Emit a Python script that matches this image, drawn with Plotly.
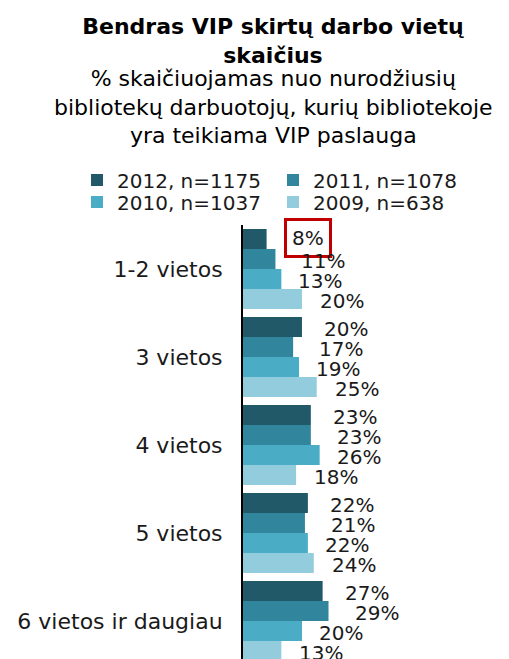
import plotly.graph_objects as go

categories = ["1-2 vietos", "3 vietos", "4 vietos", "5 vietos", "6 vietos ir daugiau"]
series_names = ["2012, n=1175", "2011, n=1078", "2010, n=1037", "2009, n=638"]
values_2012 = [8, 20, 23, 22, 27]
values_2011 = [11, 17, 23, 21, 29]
values_2010 = [13, 19, 26, 22, 20]
values_2009 = [20, 25, 18, 24, 13]
series_values = [values_2012, values_2011, values_2010, values_2009]
colors = ["#215968", "#31859C", "#4BACC6", "#93CDDD"]
legend_rows = ["legend", "legend", "legend2", "legend2"]
label_xshift = [20, 24, 15, 16]
highlight = (0, 0)  # (series index, category index) boxed in red

FONT = "DejaVu Sans"
TXT = "#1A1A1A"
BARGAP = 8 / 88

# the page body has an 8px margin: figure pixel = screen pixel - 8
OFF = 8
W, H = 509 - OFF, 659 - OFF
ML, MT = 243 - OFF, 225 - OFF
PW, PH = W - ML, H - MT


def px_x(p):  # screen pixel -> paper x
    return (p - OFF - ML) / PW


def px_y(p):  # screen pixel -> paper y
    return (H - (p - OFF)) / PH


fig = go.Figure()
for name, vals, col, lg in zip(series_names, series_values, colors, legend_rows):
    fig.add_trace(go.Bar(
        y=categories, x=vals, name=name, orientation="h",
        marker=dict(color=col, line=dict(width=0)),
        legend=lg, hoverinfo="x+y",
    ))

n = len(series_values)
bw = (1 - BARGAP) / n
annotations = []
for k, vals in enumerate(series_values):
    off = -(1 - BARGAP) / 2 + bw * (k + 0.5)
    for i, v in enumerate(vals):
        a = dict(x=v, y=i + off, xref="x", yref="y", text=f"{v}%",
                 showarrow=False, xanchor="left", yanchor="middle",
                 xshift=label_xshift[k], yshift=-2,
                 font=dict(family=FONT, size=20, color=TXT))
        if (k, i) == highlight:
            a.update(bordercolor="#C00000", borderwidth=3, borderpad=5,
                     xshift=label_xshift[k] - 3, yshift=1)
        annotations.append(a)

# subtitle
annotations.append(dict(
    xref="paper", yref="paper", x=px_x(273), y=px_y(107),
    xanchor="center", yanchor="middle", showarrow=False,
    text="% skaičiuojamas nuo nurodžiusių<br>bibliotekų darbuotojų, kurių bibliotekoje<br>yra teikiama VIP paslauga",
    font=dict(family=FONT, size=22, color="#000000"),
))

legend_common = dict(
    orientation="h", xref="paper", yref="paper", xanchor="left",
    yanchor="middle", entrywidth=151, traceorder="normal",
    font=dict(family=FONT, size=20, color=TXT), bgcolor="rgba(0,0,0,0)",
)

fig.update_layout(
    width=W, height=H,
    margin=dict(l=ML, r=0, t=MT, b=0, autoexpand=False),
    paper_bgcolor="white", plot_bgcolor="white",
    barmode="group", bargap=BARGAP, bargroupgap=0,
    title=dict(
        text="<b>Bendras VIP skirtų darbo vietų<br>skaičius</b>",
        font=dict(family=FONT, size=22, color="#000000"),
        xref="container", x=(273 - OFF) / W, xanchor="center",
        yref="container", y=1 - 26 / H, yanchor="top",
    ),
    legend=dict(legend_common, x=px_x(77), y=px_y(180)),
    legend2=dict(legend_common, x=px_x(77), y=px_y(202)),
    xaxis=dict(range=[0, 90.2], visible=False, showgrid=False, zeroline=False),
    yaxis=dict(
        type="category", categoryorder="array", categoryarray=categories,
        range=[4.432, -0.5], showline=True, linecolor="#000000", linewidth=2,
        ticks="", showgrid=False, zeroline=False, ticklabelstandoff=14,
        tickfont=dict(family=FONT, size=22, color=TXT),
    ),
    annotations=annotations,
    showlegend=True,
)

fig.write_html("out.html")
